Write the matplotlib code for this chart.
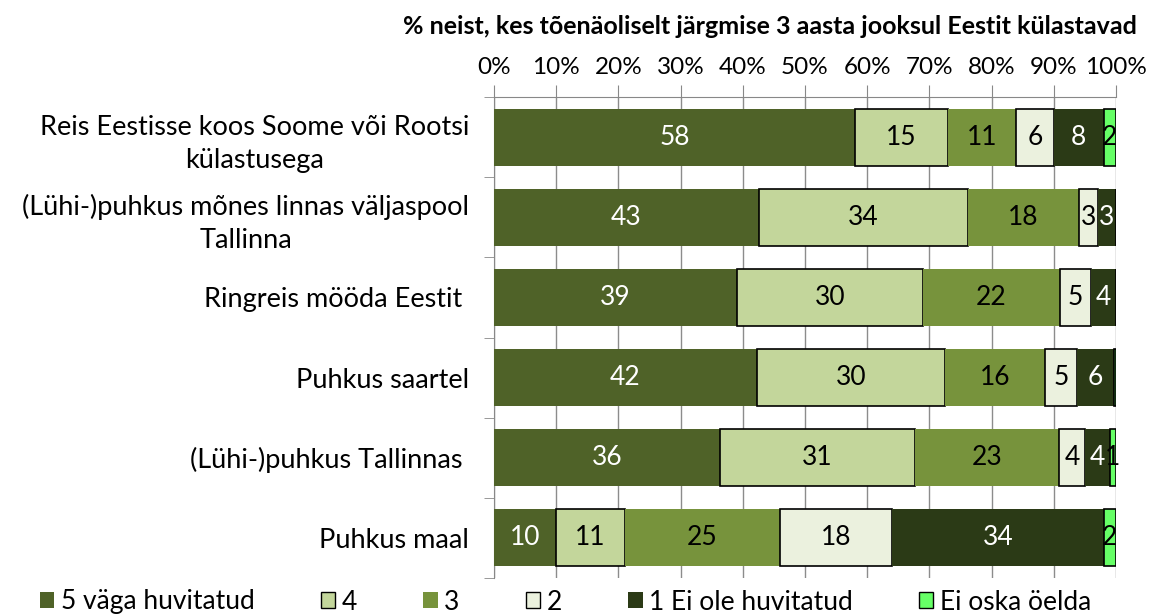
import matplotlib
matplotlib.use("Agg")
import matplotlib.pyplot as plt
import numpy as np
from matplotlib.patches import Patch

plt.rcParams['font.family'] = ['Lato', 'DejaVu Sans']

categories = [
    "Reis Eestisse koos Soome või Rootsi\nkülastusega",
    "(Lühi-)puhkus mõnes linnas väljaspool\nTallinna",
    "Ringreis mööda Eestit ",
    "Puhkus saartel",
    "(Lühi-)puhkus Tallinnas ",
    "Puhkus maal",
]
series_names = ["5 väga huvitatud", "4", "3", "2", "1 Ei ole huvitatud", "Ei oska öelda"]
v5 = [58, 43, 39, 42, 36, 10]
v4 = [15, 34, 30, 30, 31, 11]
v3 = [11, 18, 22, 16, 23, 25]
v2 = [6, 3, 5, 5, 4, 18]
v1 = [8, 3, 4, 6, 4, 34]
v0 = [2, 0, 0, 0.3, 1, 2]
title = "% neist, kes tõenäoliselt järgmise 3 aasta jooksul Eestit külastavad"
xticklabels = ["0%", "10%", "20%", "30%", "40%", "50%", "60%", "70%", "80%", "90%", "100%"]

colors = ["#4F6228", "#C3D69B", "#77933C", "#EBF1DE", "#2B3A16", "#66FF66"]
edges = [None, "black", None, "black", None, "black"]
text_colors = ["white", "black", "black", "black", "white", "black"]

data = np.array([v5, v4, v3, v2, v1, v0], dtype=float)
totals = data.sum(axis=0)
pct = data / totals * 100

fig = plt.figure(figsize=(11.52, 6.16), dpi=100)
ax = fig.add_axes([494/1152, 1-578/616, (1116-494)/1152, (578-97)/616])

y = np.arange(len(categories))
left = np.zeros(len(categories))
for i in range(len(series_names)):
    ec = edges[i] if edges[i] else "none"
    lw = 1.2 if edges[i] else 0
    ax.barh(y, pct[i], left=left, height=0.71, color=colors[i],
            edgecolor=ec, linewidth=lw, zorder=3, label=series_names[i])
    for j in range(len(categories)):
        val = data[i, j]
        if round(val) >= 1:
            ax.text(left[j] + pct[i, j] / 2, y[j], f"{int(round(val))}",
                    ha="center", va="center", fontsize=19, color=text_colors[i], zorder=4)
    left += pct[i]

ax.set_xlim(0, 100)
ax.set_ylim(len(categories) - 0.5, -0.5)
ax.xaxis.tick_top()
ax.set_xticks(np.arange(0, 101, 10))
ax.set_xticklabels(xticklabels, fontsize=17.5)
ax.tick_params(axis='x', length=9, color="#888888", pad=5)
ax.grid(axis='x', color="#8C8C8C", linewidth=1, zorder=0)
ax.set_yticks(y)
ax.set_yticklabels(categories, fontsize=19.5, multialignment="center", linespacing=1.4)
ax.tick_params(axis='y', which='major', length=0, pad=18)
ax.set_yticks(np.arange(-0.5, len(categories), 1), minor=True)
ax.tick_params(axis='y', which='minor', length=7, color="#888888")
for s in ["bottom", "right"]:
    ax.spines[s].set_visible(False)
for s in ["top", "left"]:
    ax.spines[s].set_color("#888888")

fig.text(770/1152, 1-26/616, title, ha="center", va="center", fontsize=18, fontweight="bold")

handles = [Patch(facecolor=colors[i], edgecolor=edges[i] if edges[i] else colors[i],
                 linewidth=1 if edges[i] else 0) for i in range(6)]
fig.legend(handles, series_names, loc="center", bbox_to_anchor=(0.491, 1-602/616), ncol=6,
           frameon=False, fontsize=19, handlelength=0.55, handleheight=0.55,
           handletextpad=0.25, columnspacing=2.5, borderpad=0, borderaxespad=0)

fig.savefig("out.png", dpi=100)
